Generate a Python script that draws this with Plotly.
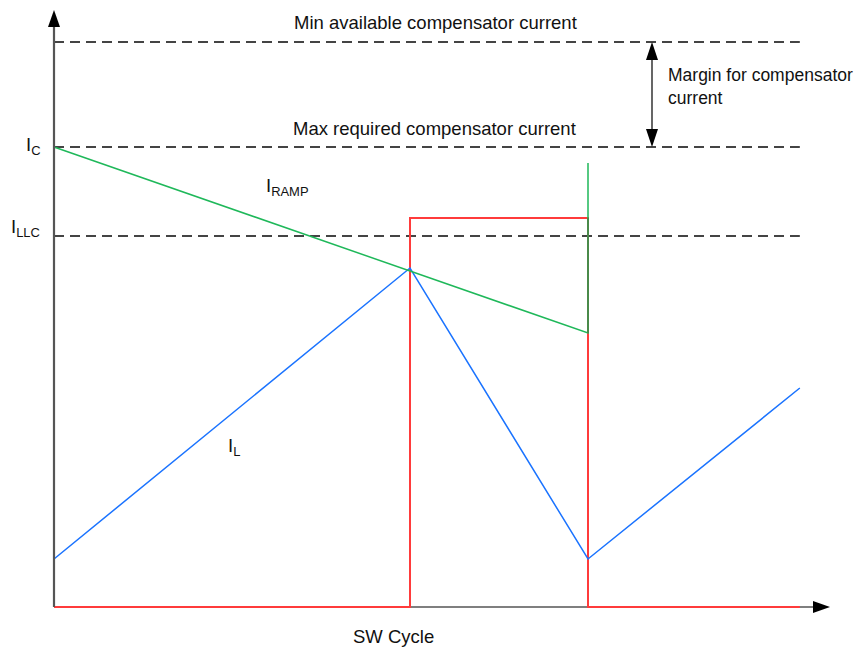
import plotly.graph_objects as go

# ---- data (x in switching-period units, y in arbitrary current units) ----
t_on = 1.0          # end of on-time
t_sw = 1.5          # end of switching cycle
t_end = 2.095       # end of plotted window

I_min_avail = 5.65  # min available compensator current
I_C = 4.60          # max required compensator current / ramp start
I_LLC = 3.71

ramp_t = [0.0, t_sw, t_sw]
ramp_i = [I_C, 2.74, 4.44]

il_t = [0.0, t_on, t_sw, t_end]
il_i = [0.48, 3.39, 0.48, 2.19]

sw_t = [0.0, t_on, t_on, t_sw, t_sw, t_end]
sw_v = [0.0, 0.0, 3.89, 3.89, 0.0, 0.0]

# ---- layout geometry (page pixels; the page body adds an 8px offset) ----
OFF = 8
W, H = 864 - OFF, 647 - OFF
X0, Y0 = 54, 607          # page pixel of data origin
PX_X = 356.0              # pixels per x unit
PX_Y = 100.0              # pixels per y unit
xr = [-(X0 - OFF) / PX_X, (W - (X0 - OFF)) / PX_X]
yr = [-(H - (Y0 - OFF)) / PX_Y, (Y0 - OFF) / PX_Y]


def dx(px):
    return (px - X0) / PX_X


def dy(py):
    return (Y0 - py) / PX_Y


FONT = "Liberation Sans, Arial, Helvetica, sans-serif"

fig = go.Figure()

# switch signal (red)
fig.add_trace(go.Scatter(x=sw_t, y=sw_v, mode="lines",
                         line=dict(color="#ff3b3b", width=2), hoverinfo="skip"))
# inductor current (blue)
fig.add_trace(go.Scatter(x=il_t, y=il_i, mode="lines",
                         line=dict(color="#1a73ff", width=1.5), hoverinfo="skip"))
# ramp (green)
fig.add_trace(go.Scatter(x=ramp_t, y=ramp_i, mode="lines",
                         line=dict(color="#1fb85a", width=1.5), hoverinfo="skip"))
# overlap of ramp reset with switch edge (dark green)
fig.add_trace(go.Scatter(x=[t_sw, t_sw], y=[ramp_i[1], sw_v[2]], mode="lines",
                         line=dict(color="#4a8a4a", width=2), hoverinfo="skip"))

shapes = []
# dashed levels
for lvl in [I_min_avail, I_C, I_LLC]:
    shapes.append(dict(type="line", xref="x", yref="y", x0=0, x1=t_end, y0=lvl, y1=lvl,
                       line=dict(color="#444444", width=1.8, dash="10px,6px"), layer="below"))
# axes
shapes.append(dict(type="line", xref="x", yref="y", x0=0, x1=0, y0=0, y1=dy(27),
                   line=dict(color="#555555", width=2.2)))
shapes.append(dict(type="line", xref="x", yref="y", x0=0, x1=dx(814), y0=0, y1=0,
                   line=dict(color="#000000", width=1.2), layer="below"))
# arrow heads on axes
hw = 6 / PX_X
shapes.append(dict(type="path", xref="x", yref="y",
                   path=f"M {-hw} {dy(27)} L {hw} {dy(27)} L 0 {dy(10)} Z",
                   fillcolor="#000000", line=dict(width=0)))
hh = 6 / PX_Y
shapes.append(dict(type="path", xref="x", yref="y",
                   path=f"M {dx(813)} {-hh} L {dx(813)} {hh} L {dx(830)} 0 Z",
                   fillcolor="#000000", line=dict(width=0)))
# margin double arrow
xa = dx(652)
hl = 18 / PX_Y
shapes.append(dict(type="line", xref="x", yref="y", x0=xa, x1=xa,
                   y0=I_C + hl, y1=I_min_avail - hl, line=dict(color="#000000", width=1.2)))
shapes.append(dict(type="path", xref="x", yref="y",
                   path=f"M {xa - hw} {I_min_avail - hl} L {xa + hw} {I_min_avail - hl} L {xa} {I_min_avail} Z",
                   fillcolor="#000000", line=dict(width=0)))
shapes.append(dict(type="path", xref="x", yref="y",
                   path=f"M {xa - hw} {I_C + hl} L {xa + hw} {I_C + hl} L {xa} {I_C} Z",
                   fillcolor="#000000", line=dict(width=0)))

ann = []


def text(s, px, py, xanchor="center", size=18.5):
    ann.append(dict(text=s, x=dx(px), y=dy(py), xref="x", yref="y", showarrow=False,
                    xanchor=xanchor, yanchor="middle",
                    font=dict(family=FONT, size=size, color="#111111")))


text("Min available compensator current", 435, 22)
text("Max required compensator current", 434, 128)
text("Margin for compensator", 666, 75, xanchor="left", size=17.5)
text("current", 666, 98, xanchor="left", size=17.5)
text("SW Cycle", 393, 636)
text("I<sub>C</sub>", 42, 146, xanchor="right")
text("I<sub>LLC</sub>", 42, 228, xanchor="right")
text("I<sub>RAMP</sub>", 264, 187, xanchor="left")
text("I<sub>L</sub>", 226, 447, xanchor="left")

fig.update_layout(
    width=W, height=H,
    margin=dict(l=0, r=0, t=0, b=0, pad=0),
    paper_bgcolor="white", plot_bgcolor="white",
    showlegend=False,
    xaxis=dict(range=xr, visible=False, fixedrange=True),
    yaxis=dict(range=yr, visible=False, fixedrange=True),
    shapes=shapes, annotations=ann,
)

fig.write_html("out.html")
